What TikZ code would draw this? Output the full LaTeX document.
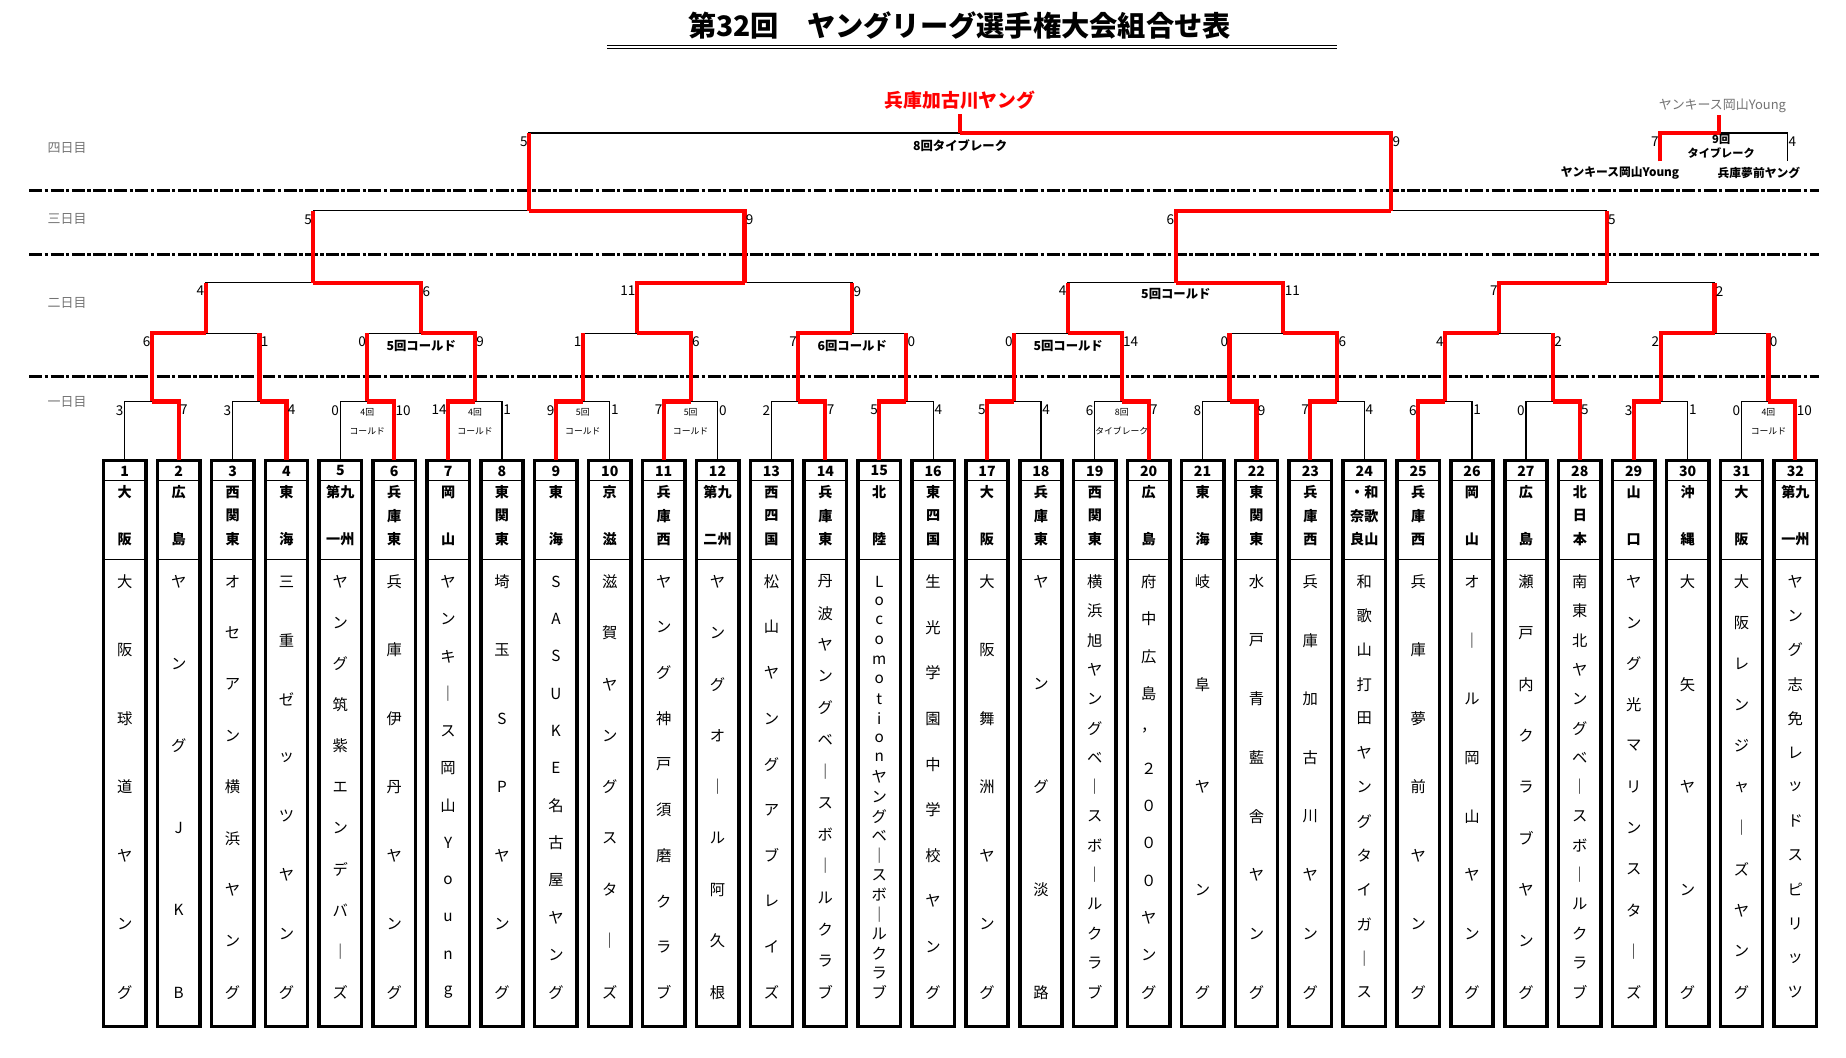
\documentclass[tikz,border=0pt]{standalone}
\usepackage{fontspec}
\setmainfont{Noto Sans CJK JP}
\ExplSyntaxOn
\NewDocumentCommand\spread{mmmmm}{
  \int_set:Nn \l_tmpa_int {\tl_count:n{#5}}
  \int_step_inline:nn {\l_tmpa_int}
   {
     \use:x { \exp_not:N \spreaditem {#1} { \fp_eval:n { #2 + (#3-#2)*(##1-1)/(\l_tmpa_int-1) } } {\exp_not:n{#4}} { \tl_item:nn {#5}{##1} } }
   }
}
\ExplSyntaxOff
\newcommand\spreaditem[4]{\node[#3] at (#1,#2) {#4};}
\definecolor{rd}{RGB}{255,0,0}
\tikzset{
  bline/.style={line width=1pt,black},
  rline/.style={line width=3.5pt,rd,line join=miter},
  score/.style={font=\fontsize{11.5}{12}\selectfont,inner sep=1pt},
  numfont/.style={font=\fontsize{12}{12}\selectfont\bfseries,inner sep=0pt},
  regfont/.style={font=\fontsize{12}{12}\selectfont\bfseries,inner sep=0pt},
  namefont/.style={font=\fontsize{13}{13}\selectfont,inner sep=0pt},
  tinynote/.style={font=\fontsize{7.5}{8}\selectfont,inner sep=0pt},
  midnote/.style={font=\fontsize{10.5}{11}\selectfont\bfseries,inner sep=0pt},
  daylbl/.style={font=\fontsize{11}{12}\selectfont,text=black!55,inner sep=0pt},
  dayline/.style={line width=2.6pt,dash pattern=on 11pt off 2pt on 3pt off 2pt},
  teambox/.style={draw,line width=3pt,minimum width=36pt,minimum height=481pt,inner sep=0pt}
}
\newcommand\teambox[3]{%
 \pgfmathsetmacro\bx{106+(#1-1)*45.774}
 \node[teambox] (t#1) at (\bx,631.5) {};
 \draw[line width=1pt] (\bx-18,408)--(\bx+18,408) (\bx-18,475)--(\bx+18,475);
 \node[numfont] at (\bx,400) {#1};
 \spread{\bx}{418}{458}{regfont}{#2}
 \spread{\bx}{494}{843}{namefont}{#3}
}
\newcommand\match[5]{%
 \pgfmathtruncatemacro\n{2^#1}
 \pgfmathtruncatemacro\a{(#2-1)*\n+1}
 \pgfmathtruncatemacro\b{#2*\n}
 \pgfmathsetmacro\xL{106+((\a+\a+\n/2-1)/2-1)*45.774}
 \pgfmathsetmacro\xR{106+((\a+\n/2+\b)/2-1)*45.774}
 \pgfmathsetmacro\xM{(\xL+\xR)/2}
 \pgfmathsetmacro\ym{{341,283,240,179,113}[#1-1]}
 \pgfmathsetmacro\yc{{391,341,283,240,179}[#1-1]}
 \draw[bline] (\xL,\yc)--(\xL,\ym)--(\xR,\ym)--(\xR,\yc);
 \ifnum#1>1 \draw[rline] (\xL,\yc)--(\xL,\ym); \draw[rline] (\xR,\yc)--(\xR,\ym); \fi
 \ifnum#3=0 \draw[rline] (\xL,\yc)--(\xL,\ym)--(\xM,\ym); \else \draw[rline] (\xR,\yc)--(\xR,\ym)--(\xM,\ym); \fi
 \node[score,anchor=north east] at (\xL,\ym+2) {#4};
 \node[score,anchor=north west] at (\xR,\ym+2) {#5};
}
\newcommand\rnote[3]{% match k of round1, two lines
 \pgfmathsetmacro\bx{106+(2*#1-1.5)*45.774}
 \node[tinynote] at (\bx,350) {#2};
 \node[tinynote] at (\bx,366) {#3};
}
\begin{document}
\begin{tikzpicture}[x=1pt,y=-1pt]
\useasboundingbox (0,0) rectangle (1568,898);
% title
\node[font=\fontsize{24}{26}\selectfont\bfseries] (title) at (815,22) {第32回　ヤングリーグ選手権大会組合せ表};
\draw[line width=0.9pt] (516,38.5)--(1136,38.5) (516,41.5)--(1136,41.5);
% day labels
\node[daylbl] (d4) at (57,126) {四日目};
\node[daylbl] (d3) at (57,186) {三日目};
\node[daylbl] (d2) at (57,257) {二日目};
\node[daylbl] (d1) at (57,341) {一日目};
\foreach \yy in {162,216,320} \draw[dayline] (25,\yy)--(1545,\yy);
% teams
\teambox{1}{大阪}{大阪球道ヤング}
\teambox{2}{広島}{ヤングJKB}
\teambox{3}{西関東}{オセアン横浜ヤング}
\teambox{4}{東海}{三重ゼッツヤング}
\teambox{5}{{第九}{一州}}{ヤング筑紫エンデバ｜ズ}
\teambox{6}{兵庫東}{兵庫伊丹ヤング}
\teambox{7}{岡山}{ヤンキ｜ス岡山Young}
\teambox{8}{東関東}{埼玉SPヤング}
\teambox{9}{東海}{SASUKE名古屋ヤング}
\teambox{10}{京滋}{滋賀ヤングスタ｜ズ}
\teambox{11}{兵庫西}{ヤング神戸須磨クラブ}
\teambox{12}{{第九}{二州}}{ヤングオ｜ル阿久根}
\teambox{13}{西四国}{松山ヤングアブレイズ}
\teambox{14}{兵庫東}{丹波ヤングベ｜スボ｜ルクラブ}
\teambox{15}{北陸}{Locomotionヤングベ｜スボ｜ルクラブ}
\teambox{16}{東四国}{生光学園中学校ヤング}
\teambox{17}{大阪}{大阪舞洲ヤング}
\teambox{18}{兵庫東}{ヤング淡路}
\teambox{19}{西関東}{横浜旭ヤングベ｜スボ｜ルクラブ}
\teambox{20}{広島}{府中広島，２０００ヤング}
\teambox{21}{東海}{岐阜ヤング}
\teambox{22}{東関東}{水戸青藍舎ヤング}
\teambox{23}{兵庫西}{兵庫加古川ヤング}
\teambox{24}{{・和}{奈歌}{良山}}{和歌山打田ヤングタイガ｜ス}
\teambox{25}{兵庫西}{兵庫夢前ヤング}
\teambox{26}{岡山}{オ｜ル岡山ヤング}
\teambox{27}{広島}{瀬戸内クラブヤング}
\teambox{28}{北日本}{南東北ヤングベ｜スボ｜ルクラブ}
\teambox{29}{山口}{ヤング光マリンスタ｜ズ}
\teambox{30}{沖縄}{大矢ヤング}
\teambox{31}{大阪}{大阪レンジャ｜ズヤング}
\teambox{32}{{第九}{一州}}{ヤング志免レッドスピリッツ}
% round 1
\match{1}{1}{1}{3}{7}  \match{1}{2}{1}{3}{4}  \match{1}{3}{1}{0}{10} \match{1}{4}{0}{14}{1}
\match{1}{5}{0}{9}{1}  \match{1}{6}{0}{7}{0}  \match{1}{7}{1}{2}{7}  \match{1}{8}{0}{5}{4}
\match{1}{9}{0}{5}{4}  \match{1}{10}{1}{6}{7} \match{1}{11}{1}{8}{9} \match{1}{12}{0}{7}{4}
\match{1}{13}{0}{6}{1} \match{1}{14}{1}{0}{5} \match{1}{15}{0}{3}{1} \match{1}{16}{1}{0}{10}
% round 2
\match{2}{1}{0}{6}{1} \match{2}{2}{1}{0}{9} \match{2}{3}{1}{1}{6} \match{2}{4}{0}{7}{0}
\match{2}{5}{1}{0}{14} \match{2}{6}{1}{0}{6} \match{2}{7}{0}{4}{2} \match{2}{8}{0}{2}{0}
% round 3
\match{3}{1}{1}{4}{6} \match{3}{2}{0}{11}{9} \match{3}{3}{1}{4}{11} \match{3}{4}{0}{7}{2}
% round 4
\match{4}{1}{1}{5}{9} \match{4}{2}{0}{6}{5}
% final
\match{5}{1}{1}{5}{9}
\coordinate (champ) at (815.5,97);
\draw[rline] (815.5,113)--(champ);
\node[font=\fontsize{16}{17}\selectfont\bfseries,text=rd] (winner) at (815.5,85) {兵庫加古川ヤング};
% notes
\rnote{3}{4回}{コールド} \rnote{4}{4回}{コールド} \rnote{5}{5回}{コールド}
\rnote{6}{5回}{コールド} \rnote{10}{8回}{タイブレーク} \rnote{16}{4回}{コールド}
\node[midnote] at (357.8,294) {5回コールド};
\node[midnote] at (723.9,294) {6回コールド};
\node[midnote] at (907.3,294) {5回コールド};
\node[midnote] at (998.8,250) {5回コールド};
\node[midnote] at (815.5,124) {8回タイブレーク};
% extra game
\node[font=\fontsize{11}{12}\selectfont,text=black!55] (ey) at (1463,90) {ヤンキース岡山Young};
\draw[bline] (1410,113)--(1518,113)--(1518,137);
\draw[rline] (1410,137)--(1410,113)--(1460,113)--(1460,98);
\node[score,anchor=north east] at (1410,115) {7};
\node[score,anchor=north west] at (1518,115) {4};
\node[font=\fontsize{9.5}{10}\selectfont\bfseries,inner sep=0pt] at (1462,118) {9回};
\node[font=\fontsize{9.5}{10}\selectfont\bfseries,inner sep=0pt] at (1462,130) {タイブレーク};
\node[font=\fontsize{10}{11}\selectfont\bfseries,inner sep=0pt] (ea) at (1376,147) {ヤンキース岡山Young};
\node[font=\fontsize{10}{11}\selectfont\bfseries,inner sep=0pt] (eb) at (1494,147) {兵庫夢前ヤング};
\end{tikzpicture}
\end{document}
